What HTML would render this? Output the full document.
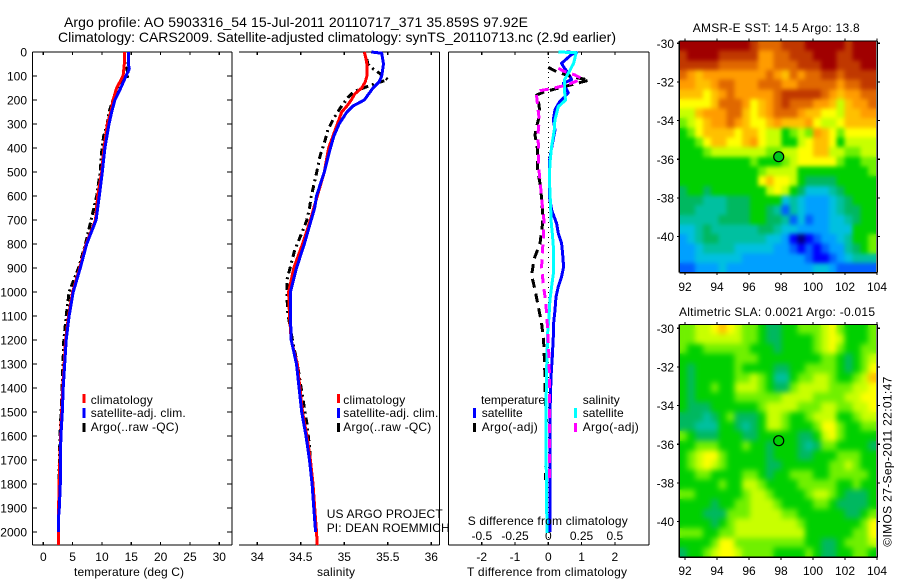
<!DOCTYPE html>
<html>
<head>
<meta charset="utf-8">
<title>Argo profile</title>
<style>
html,body{margin:0;padding:0;background:#fff;}
svg{display:block;}
text{font-family:"Liberation Sans",sans-serif;font-size:12px;fill:#000;}
.title{font-size:14px;}
</style>
</head>
<body>
<svg id="fig" xmlns="http://www.w3.org/2000/svg" width="900" height="580" viewBox="0 0 900 580">
<defs>
<filter id="soft-sst" filterUnits="userSpaceOnUse" x="660" y="20" width="240" height="270" color-interpolation-filters="sRGB">
<feGaussianBlur in="SourceGraphic" stdDeviation="2.2" result="b"/>
<feMerge><feMergeNode in="SourceGraphic"/><feMergeNode in="b"/></feMerge>
</filter>
<filter id="soft-sla" filterUnits="userSpaceOnUse" x="660" y="300" width="240" height="280" color-interpolation-filters="sRGB">
<feGaussianBlur in="SourceGraphic" stdDeviation="3" result="b"/>
<feMerge><feMergeNode in="SourceGraphic"/><feMergeNode in="b"/></feMerge>
</filter>
<clipPath id="clip-sst"><rect x="679.3" y="41" width="196.7" height="231.7"/></clipPath>
<clipPath id="clip-sla"><rect x="679.3" y="324.5" width="196.7" height="232.8"/></clipPath>
</defs>
<rect x="0" y="0" width="900" height="580" fill="#fff"/>
<text class="title" x="64" y="27" textLength="464" lengthAdjust="spacing">Argo profile: AO 5903316_54 15-Jul-2011 20110717_371 35.859S 97.92E</text>
<text class="title" x="58" y="42" textLength="558" lengthAdjust="spacing">Climatology: CARS2009. Satellite-adjusted climatology: synTS_20110713.nc (2.9d earlier)</text>

<g id="p1"></g>
<g id="p2"></g>
<g id="p3"></g>
<g id="m1"></g>
<g id="m2"></g>

<g shape-rendering="crispEdges">
<rect x="82.5" y="394" width="3" height="9" fill="#f00"/>
<rect x="82.5" y="408" width="3" height="10" fill="#00f"/>
<rect x="82.5" y="423" width="3" height="9" fill="#000"/>
</g>
<text x="90.7" y="404" textLength="62">climatology</text>
<text x="90.7" y="417" textLength="95">satellite-adj. clim.</text>
<text x="90.7" y="431" textLength="88">Argo(..raw -QC)</text>

<g shape-rendering="crispEdges">
<rect x="337" y="394" width="3" height="9" fill="#f00"/>
<rect x="337" y="408" width="3" height="10" fill="#00f"/>
<rect x="337" y="423" width="3" height="9" fill="#000"/>
</g>
<text x="343.3" y="404" textLength="62">climatology</text>
<text x="343.3" y="417" textLength="95">satellite-adj. clim.</text>
<text x="343.3" y="431" textLength="88">Argo(..raw -QC)</text>

<text x="326.7" y="518" textLength="116">US ARGO PROJECT</text>
<text x="326.7" y="532" textLength="123">PI: DEAN ROEMMICH</text>

<g shape-rendering="crispEdges">
<rect x="473" y="408" width="3" height="10" fill="#00f"/>
<rect x="473" y="423" width="3" height="9" fill="#000"/>
<rect x="574" y="408" width="3" height="10" fill="#0ff"/>
<rect x="574" y="423" width="3" height="9" fill="#f0f"/>
</g>
<text x="481" y="404" textLength="64">temperature</text>
<text x="481.7" y="417" textLength="41">satellite</text>
<text x="481.7" y="431" textLength="56">Argo(-adj)</text>
<text x="582.7" y="404" textLength="37">salinity</text>
<text x="582.7" y="417" textLength="41">satellite</text>
<text x="582.7" y="431" textLength="56">Argo(-adj)</text>

<text x="74" y="576" textLength="110">temperature (deg C)</text>
<text x="317" y="576" textLength="38">salinity</text>
<text x="467.7" y="525" textLength="160">S difference from climatology</text>
<text x="467" y="576" textLength="160">T difference from climatology</text>

<text x="692.7" y="32" textLength="167">AMSR-E SST: 14.5 Argo: 13.8</text>
<text x="679" y="316" textLength="196">Altimetric SLA: 0.0021 Argo: -0.015</text>
<text transform="translate(891.7,546.7) rotate(-90)" x="0" y="0" textLength="170">©IMOS 27-Sep-2011 22:01:47</text>
</svg>

<script>
// ---- depth axis
const depthTicks = [0,100,200,300,400,500,600,700,800,900,1000,1100,1200,1300,1400,1500,1600,1700,1800,1900,2000];

// ---- temperature panel
const tempTicks = [0,5,10,15,20,25,30];
const tempBlueDepth = [0,50,70,100,150,200,250,300,400,500,600,700,800,900,1000,1100,1200,1400,1500,1600,1700,1800,1900,1950,2000];
const tempBlue = [14.5,14.5,14.66,14.1,13.2,12.2,11.65,11.2,10.5,10.05,9.55,9.0,7.4,6.3,5.1,4.4,3.9,3.4,3.24,3.0,2.9,2.9,2.73,2.55,2.55];
const tempRedDepth = [0,50,100,150,200,250,300,400,500,600,700,800,900,1000,1100,1200,1400,1600,1800,1900,2000,2055];
const tempRed = [13.8,13.8,13.6,12.5,11.9,11.5,10.9,10.35,9.95,9.27,8.9,7.3,6.2,5.0,4.3,3.8,3.3,2.95,2.7,2.6,2.55,2.55];
const tempBlackDepth = [0,50,70,100,110,150,200,250,300,350,400,500,550,600,800,900,1000,1100,1200,1400,1600,1800];
const tempBlack = [13.8,13.9,14.2,14.6,13.6,12.8,11.9,11.2,10.9,10.3,10,9.7,9.4,9.1,7.2,6.0,4.4,3.9,3.5,3.2,2.85,2.65];

// ---- salinity panel
const salTicks = [34,34.5,35,35.5,36];
const salTickLabels = ['34','34.5','35','35.5','36'];
const salBlueDepth = [0,5,50,100,125,150,200,225,250,300,350,400,500,600,650,700,800,900,1000,1100,1200,1300,1400,1500,1600,1700,1800,1900,2000];
const salBlue = [35.31,35.43,35.45,35.43,35.4,35.33,35.23,35.1,35.03,34.94,34.88,34.84,34.77,34.68,34.66,34.62,34.54,34.45,34.38,34.38,34.39,34.45,34.48,34.51,34.56,34.6,34.63,34.65,34.67];
const salRedDepth = [0,30,50,100,125,150,175,200,225,250,300,350,400,500,600,650,700,800,900,1000,1100,1200,1300,1400,1500,1600,1700,1800,1900,2000,2055];
const salRed = [35.23,35.25,35.26,35.26,35.24,35.2,35.12,35.08,35.03,34.97,34.92,34.87,34.82,34.77,34.69,34.65,34.61,34.52,34.42,34.36,34.37,34.39,34.46,34.49,34.52,34.57,34.61,34.64,34.66,34.68,34.69];
const salBlackDepth = [30,50,70,90,115,130,150,165,190,235,276,325,367,436,505,603,651,700,755,825,894,950,1013,1089,1214,1297,1436,1547,1644,1700];
const salBlack = [35.26,35.27,35.33,35.41,35.5,35.37,35.22,35.11,35.04,34.95,34.88,34.81,34.78,34.72,34.68,34.62,34.6,34.57,34.51,34.43,34.38,34.34,34.34,34.35,34.41,34.46,34.52,34.57,34.6,34.61];

// ---- difference panel
const diffTTicks = [-2,-1,0,1,2];
const diffSTicks = [-0.5,-0.25,0,0.25,0.5];
const diffSTickLabels = ['-0.5','-0.25','0','0.25','0.5'];
const diffBlueDepth = [0,3,10,47,60,89,115,130,170,205,240,283,325,400,450,500,600,658,714,756,798,839,895,936,978,1020,1075,1131,1186,1270,1353,1500,2000];
const diffBlue = [0.55,0.85,0.7,0.4,0.45,0.6,0.7,0.45,0.6,0.35,0.2,0.15,0.2,0.1,0.04,0.03,0.03,0.1,0.25,0.3,0.4,0.43,0.46,0.4,0.3,0.23,0.2,0.16,0.15,0.12,0.08,0.05,0.05];
const diffBlackDepth = [64,82,103,117,131,147,165,179,200,256,311,346,408,492,561,651,714,798,860,929,992,1061,1131,1200,1270,1353,1395,1533,1784];
const diffBlack = [0,0.25,0.7,1.23,0.85,0.4,-0.1,-0.35,-0.3,-0.25,-0.35,-0.4,-0.32,-0.32,-0.23,-0.18,-0.17,-0.25,-0.42,-0.5,-0.4,-0.3,-0.2,-0.14,-0.12,-0.1,-0.1,-0.06,-0.08];
const diffCyanDepth = [0,3,47,89,117,158,200,228,283,325,394,464,533,651,700,756,825,916,978,1034,1103,1172,1242,1311,1505,1770,2005];
const diffCyan = [0.075,0.21,0.19,0.15,0.12,0.12,0.13,0.075,0.05,0.045,0.025,0.012,0.008,0.018,0.02,0.03,0.04,0.04,0.025,0.012,0.005,-0.005,-0.008,-0.012,-0.018,-0.015,-0.01];
const diffMagentaDepth = [68,82,96,110,124,137,151,161,172,228,283,353,380,464,561,651,700,756,839,895,964,1020,1089,1158,1270,1353,1505,1785];
const diffMagenta = [0.075,0.125,0.2,0.25,0.2,0.14,0.04,-0.06,-0.09,-0.08,-0.068,-0.08,-0.075,-0.075,-0.058,-0.043,-0.033,-0.035,-0.045,-0.05,-0.038,-0.025,-0.012,-0.005,0.005,0.008,0.008,0.008];

// ---- maps
const lonTicks = [92,94,96,98,100,102,104];
const latTicks = [-30,-32,-34,-36,-38,-40];
const profileLon = [97.92];
const levelColours = ['#000080','#0000ff','#0060ff','#00a0ff','#00c0e0','#00c0a0','#00b860','#00d000','#70f000','#c8ff00','#ffff00','#ffc000','#ff9c00','#e06800','#c03800','#a00000'];

const sstLevels = [
[15,15,15,15,15,15,15,15,15,14,13,13,13,14,14,14,15,15,15,15,15,14,15,15,15],
[14,15,15,15,15,14,14,14,14,14,12,12,13,13,14,14,14,15,15,15,14,14,15,15,15],
[14,14,14,14,14,13,13,13,13,13,12,12,13,13,13,14,14,14,15,15,14,14,14,15,15],
[13,12,11,12,12,12,12,12,12,12,12,13,12,11,13,12,13,13,14,14,13,14,14,14,14],
[12,12,11,11,12,13,13,12,12,12,13,13,13,12,12,13,13,13,13,13,12,13,13,14,14],
[11,11,11,10,11,12,13,12,12,12,12,12,13,14,14,14,14,14,13,12,11,12,12,13,13],
[10,10,10,10,11,13,13,13,12,10,11,12,13,14,13,13,13,12,12,11,9,11,12,12,13],
[9,9,11,12,12,12,13,13,11,10,11,12,13,13,13,12,11,11,10,10,9,11,11,12,12],
[8,9,10,11,12,12,13,12,11,10,10,11,12,11,11,11,12,10,9,9,10,11,11,11,11],
[7,8,10,11,11,11,11,10,11,11,10,9,9,7,8,9,8,12,11,10,8,10,10,10,10],
[7,7,8,10,11,11,10,10,11,12,10,9,9,7,7,9,10,11,11,10,7,9,9,9,9],
[7,7,7,8,9,9,9,9,9,9,9,8,8,9,9,10,10,11,11,9,9,8,8,9,9],
[7,7,7,7,7,7,7,7,7,8,7,7,7,8,9,10,10,10,10,10,8,7,7,8,8],
[7,7,7,7,7,7,7,7,7,7,8,9,9,9,9,7,7,7,7,7,7,7,7,7,8],
[7,7,7,7,7,7,7,7,7,7,10,11,10,10,9,7,6,6,6,6,7,7,7,7,7],
[6,7,7,6,7,7,7,7,7,7,7,9,10,9,7,6,4,4,4,5,6,7,7,7,7],
[6,6,6,5,5,5,6,6,6,7,7,7,7,4,5,4,3,3,3,4,5,6,7,7,7],
[6,6,5,5,5,5,6,6,6,7,7,6,5,2,5,4,3,3,3,4,5,6,6,7,7],
[5,5,5,5,5,6,6,6,6,7,7,6,6,5,2,4,2,3,3,4,4,5,6,7,7],
[4,4,5,6,5,5,5,5,5,5,6,6,5,4,4,3,3,3,3,4,4,4,7,7,7],
[3,4,5,6,6,5,5,5,5,5,5,4,4,3,1,0,1,2,3,3,4,5,7,7,8],
[3,3,4,5,5,5,5,4,4,4,4,4,3,3,2,1,2,1,2,3,3,5,6,7,8],
[3,3,4,4,4,4,4,4,3,3,3,3,3,3,3,3,2,1,1,2,3,4,5,5,5],
[2,2,3,3,3,4,3,3,3,3,3,3,3,3,3,3,3,4,4,3,2,2,2,2,2]
];

const slaLevels = [
[8,8,9,9,10,11,10,9,8,8,7,6,6,7,7,8,8,8,9,10,8,7,7,7,8],
[8,8,9,9,9,9,9,9,8,8,7,6,6,7,7,7,7,8,9,10,9,7,7,7,8],
[8,7,7,8,8,8,8,8,8,7,7,7,6,7,7,7,7,8,9,10,8,7,7,8,8],
[7,7,7,7,7,7,7,8,8,8,7,7,7,7,7,7,7,7,8,8,7,6,7,8,9],
[7,6,7,7,7,7,7,8,7,7,7,7,6,6,7,7,8,8,8,8,7,6,7,8,10],
[7,6,7,7,7,7,7,8,8,9,8,7,5,5,7,8,8,9,9,8,7,7,8,9,11],
[7,6,7,7,8,7,7,9,9,9,8,7,6,6,8,9,9,9,9,8,8,8,9,9,10],
[7,6,7,7,7,7,7,8,8,8,8,8,8,9,9,9,9,8,8,8,8,9,9,10,10],
[7,6,6,6,7,7,7,7,7,7,8,9,9,9,9,8,8,8,9,9,8,8,9,9,10],
[6,6,6,5,6,7,8,6,6,6,7,9,9,8,7,7,8,9,9,9,7,7,8,9,9],
[6,6,5,5,5,7,7,6,5,6,7,9,9,8,7,7,7,8,10,10,8,7,7,8,8],
[8,7,6,6,6,7,7,7,6,6,7,7,7,7,7,6,6,7,9,10,8,7,7,7,7],
[7,7,8,8,8,7,7,7,8,7,7,6,7,7,7,6,5,6,8,8,7,7,7,7,6],
[7,8,9,10,10,8,7,7,7,7,7,6,7,7,7,6,6,7,7,7,8,8,8,7,7],
[7,8,9,10,9,8,7,7,7,7,7,6,6,7,7,7,7,7,7,8,8,9,8,7,7],
[7,7,8,8,7,7,7,7,8,8,7,6,7,7,8,8,8,7,7,8,8,8,8,8,7],
[7,7,7,7,7,8,7,7,9,9,8,7,7,7,7,8,8,8,8,8,7,7,8,7,7],
[8,8,7,7,7,7,7,7,8,9,9,8,7,7,7,7,8,9,9,8,7,6,6,6,7],
[7,7,7,7,6,7,7,8,8,9,9,9,8,7,7,7,7,8,8,7,6,6,6,6,7],
[7,7,7,6,6,6,8,8,8,9,9,9,9,8,8,7,7,7,7,7,7,6,6,7,8],
[7,7,7,7,6,7,8,9,9,9,9,9,9,9,9,8,7,7,7,7,7,7,7,8,10],
[8,8,8,7,7,8,8,9,9,9,9,9,9,9,9,9,7,7,7,7,7,7,8,8,10],
[7,7,7,7,8,10,10,8,8,8,8,8,8,8,8,8,7,7,6,6,7,8,8,8,9],
[6,7,7,8,9,10,10,9,8,8,8,8,7,7,7,7,8,7,6,6,7,7,8,8,7]
];

// ---- drawing helpers
const NS = 'http://www.w3.org/2000/svg';
function make(parent, tag, props, name) {
  const el = document.createElementNS(NS, tag);
  for (const k in props) el.setAttribute(k, props[k]);
  
  
  parent.appendChild(el);
  return el;
}
function rule(parent, x1, y1, x2, y2, name) {
  return make(parent, 'line', {x1: x1, y1: y1, x2: x2, y2: y2, stroke: '#000', 'stroke-width': 1.2, 'shape-rendering': 'crispEdges'}, name);
}
function label(parent, x, y, anchor, str, name) {
  const t = make(parent, 'text', {x: x, y: y, 'text-anchor': anchor}, name);
  t.textContent = str;
  return t;
}
const depthY = d => 52 + d * 0.24;
const PLOT_TOP = 52, PLOT_BOTTOM = 545;
const tempX = t => 43.3 + t * 5.867;
const salX = s => 257.3 + (s - 34) * 87;
const diffTX = t => 548.3 + t * 33.3;
const diffSX = s => 548.3 + s * 133;

function profile(parent, depths, values, xf, colour, dash, name) {
  const pts = depths.map((d, i) => xf(values[i]).toFixed(1) + ',' + depthY(d).toFixed(1)).join(' ');
  const props = {points: pts, fill: 'none', stroke: colour, 'stroke-width': 3, 'shape-rendering': 'crispEdges', 'stroke-linejoin': 'round'};
  if (dash) props['stroke-dasharray'] = dash;
  return make(parent, 'polyline', props, name);
}
function box(parent, left, right, showLeft, showRight) {
  rule(parent, left, PLOT_TOP, right, PLOT_TOP, 'top-axis-line');
  rule(parent, left, PLOT_BOTTOM, right, PLOT_BOTTOM, 'bottom-axis-line');
  if (showLeft) rule(parent, left, PLOT_TOP, left, PLOT_BOTTOM, 'left-axis-line');
  if (showRight) rule(parent, right, PLOT_TOP, right, PLOT_BOTTOM, 'right-axis-line');
}
function xTicks(parent, ticks, labels, xf, y) {
  ticks.forEach((v, i) => {
    rule(parent, xf(v), PLOT_TOP, xf(v), PLOT_TOP + 3, 'x-tick-top');
    rule(parent, xf(v), PLOT_BOTTOM, xf(v), PLOT_BOTTOM - 3, 'x-tick-bottom');
    label(parent, xf(v), y, 'middle', labels[i], 'x-tick-label');
  });
}

// ---- temperature panel
const p1 = document.getElementById('p1');
box(p1, 32.5, 232, true, true);
depthTicks.forEach(d => {
  rule(p1, 32.5, depthY(d), 37, depthY(d), 'depth-tick-left');
  rule(p1, 232, depthY(d), 227, depthY(d), 'depth-tick-right');
  label(p1, 27, depthY(d) + 4.5, 'end', String(d), 'depth-tick-label');
});
xTicks(p1, tempTicks, tempTicks.map(String), tempX, 561);
profile(p1, tempBlackDepth, tempBlack, tempX, '#000', '7 3 2 3', 'temperature-argo-line');
profile(p1, tempRedDepth, tempRed, tempX, '#f00', '', 'temperature-climatology-line');
profile(p1, tempBlueDepth, tempBlue, tempX, '#00f', '', 'temperature-satellite-line');

// ---- salinity panel
const p2 = document.getElementById('p2');
box(p2, 239, 439.5, false, true);
xTicks(p2, salTicks, salTickLabels, salX, 561);
profile(p2, salBlackDepth, salBlack, salX, '#000', '7 4 2 4', 'salinity-argo-line');
profile(p2, salRedDepth, salRed, salX, '#f00', '', 'salinity-climatology-line');
profile(p2, salBlueDepth, salBlue, salX, '#00f', '', 'salinity-satellite-line');

// ---- difference panel
const p3 = document.getElementById('p3');
box(p3, 448.5, 649, true, true);
xTicks(p3, diffTTicks, diffTTicks.map(String), diffTX, 561);
diffSTicks.forEach((v, i) => {
  label(p3, diffSX(v), 540, 'middle', diffSTickLabels[i], 'salinity-difference-tick-label');
});
make(p3, 'line', {x1: 548.5, y1: PLOT_TOP, x2: 548.5, y2: PLOT_BOTTOM, stroke: '#000', 'stroke-width': 1, 'stroke-dasharray': '1 4', 'shape-rendering': 'crispEdges'}, 'zero-reference-line');
profile(p3, diffBlueDepth, diffBlue, diffTX, '#00f', '', 'temperature-satellite-difference-line');
profile(p3, diffBlackDepth, diffBlack, diffTX, '#000', '9 6', 'temperature-argo-difference-line');
profile(p3, diffCyanDepth, diffCyan, diffSX, '#0ff', '', 'salinity-satellite-difference-line');
profile(p3, diffMagentaDepth, diffMagenta, diffSX, '#f0f', '9 6', 'salinity-argo-difference-line');

// ---- maps
function drawMap(parent, levels, top, bottom, lat30Y, lonLabelY, markerFill, markerY, filterId, clipId) {
  const left = 679.3, imgRight = 876;
  const lonX = lon => 685 + (lon - 92) * 16;
  const latY = lat => lat30Y + (-30 - lat) * 19.33;
  const rows = levels.length, cols = levels[0].length;
  const cw = (imgRight - left) / cols, ch = (bottom - top) / rows;
  const clipGroup = make(parent, 'g', {'clip-path': 'url(#' + clipId + ')'}, 'map-image-clip');
  const cellGroup = make(clipGroup, 'g', {filter: 'url(#' + filterId + ')'}, 'map-cells');
  levels.forEach((row, j) => {
    row.forEach((v, i) => {
      make(cellGroup, 'rect', {x: (left + i * cw).toFixed(2), y: (top + j * ch).toFixed(2), width: (cw + 0.5).toFixed(2), height: (ch + 0.5).toFixed(2), fill: levelColours[v], 'shape-rendering': 'crispEdges'}, 'map-cell');
    });
  });
  const right = 877.3;
  rule(parent, left, top, right, top, 'map-top-axis-line');
  rule(parent, left, bottom, right, bottom, 'map-bottom-axis-line');
  rule(parent, left, top, left, bottom, 'map-left-axis-line');
  rule(parent, right, top, right, bottom, 'map-right-axis-line');
  lonTicks.forEach(lon => {
    rule(parent, lonX(lon), top, lonX(lon), top - 2.5, 'lon-tick-top');
    rule(parent, lonX(lon), bottom, lonX(lon), bottom + 2.5, 'lon-tick-bottom');
    label(parent, lonX(lon), lonLabelY, 'middle', String(lon), 'lon-tick-label');
  });
  latTicks.forEach(lat => {
    rule(parent, left, latY(lat), left - 2.5, latY(lat), 'lat-tick-left');
    rule(parent, right, latY(lat), right + 2.5, latY(lat), 'lat-tick-right');
    label(parent, 674, latY(lat) + 4.5, 'end', String(lat), 'lat-tick-label');
  });
  make(parent, 'circle', {cx: lonX(profileLon[0]) - 1, cy: markerY, r: 5, fill: markerFill, stroke: '#000', 'stroke-width': 1.2}, 'profile-location-marker');
}
drawMap(document.getElementById('m1'), sstLevels, 41, 272.7, 43.3, 291, '#00c81c', 156.7, 'soft-sst', 'clip-sst');
drawMap(document.getElementById('m2'), slaLevels, 324.5, 557.3, 328.3, 575, 'none', 440.7, 'soft-sla', 'clip-sla');
</script>
</body>
</html>
